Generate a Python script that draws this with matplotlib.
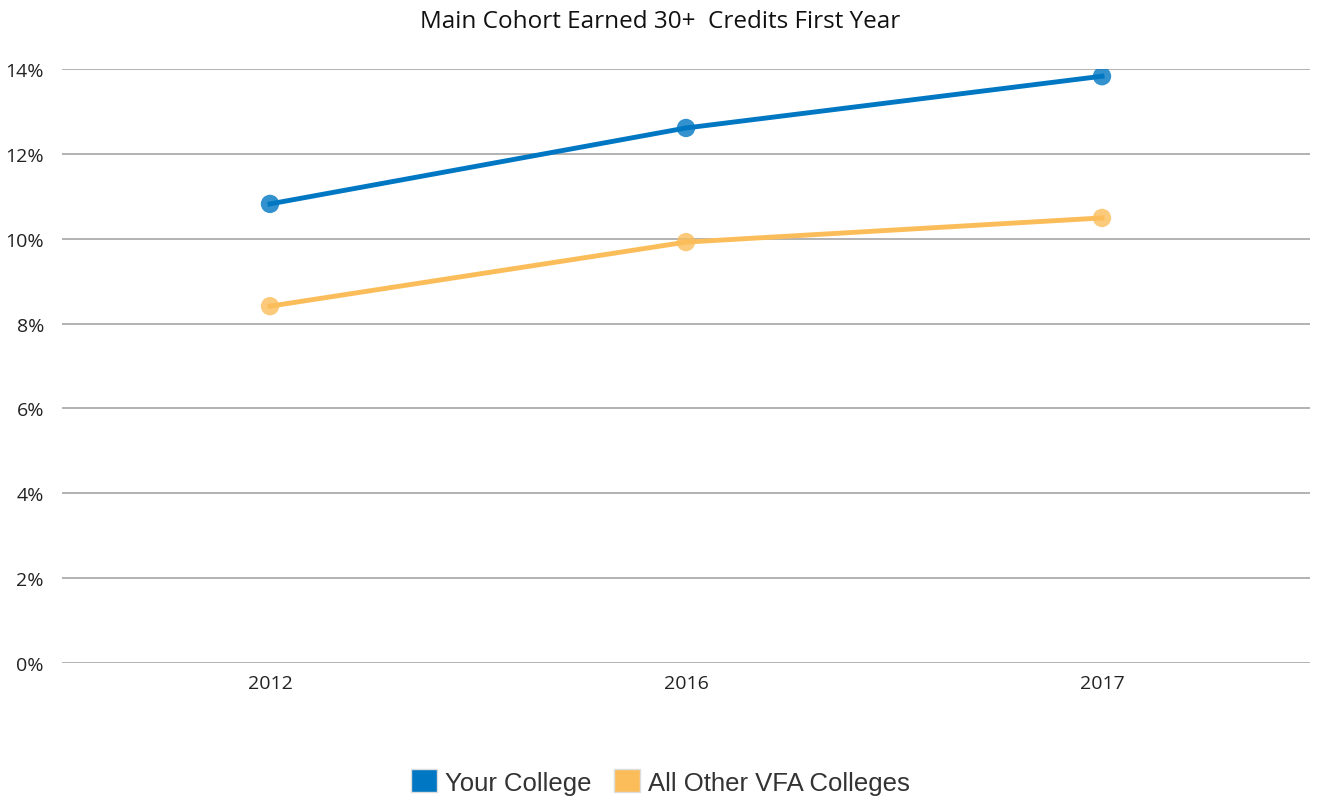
import matplotlib
matplotlib.use("Agg")
import matplotlib.pyplot as plt
from matplotlib.patches import Patch
from matplotlib.ticker import FuncFormatter

# data
years = ["2012", "2016", "2017"]
your_college = [10.82, 12.61, 13.83]
other_vfa = [8.41, 9.92, 10.49]
series_names = ["Your College", "All Other VFA Colleges"]
colors = ["#0077c2", "#fbbd59"]

plt.rcParams['font.family'] = ['Open Sans', 'DejaVu Sans']

fig = plt.figure(figsize=(13.21, 8.03), dpi=100)
ax = fig.add_axes([62 / 1321, 1 - 664 / 803, 1248 / 1321, 594 / 803])

x = range(len(years))
for vals, col in zip([your_college, other_vfa], colors):
    ax.plot(x, vals, color=col, linewidth=3.5, zorder=3)
    ax.scatter(x, vals, s=175, color=col, alpha=0.8, edgecolors='none', zorder=2)

ax.set_xlim(-0.5, 2.5)
ax.set_ylim(0, 14)
ax.set_yticks(range(0, 15, 2))
ax.yaxis.set_major_formatter(FuncFormatter(lambda v, p: "%d%%" % v))
ax.set_xticks(list(x))
ax.set_xticklabels(years)
ax.tick_params(axis='both', length=0, labelsize=14, colors='#222222')
ax.tick_params(axis='y', pad=13)
ax.tick_params(axis='x', pad=8)
ax.grid(axis='y', color='#a6a6a6', linewidth=1.2, zorder=0)
for s in ax.spines.values():
    s.set_visible(False)

fig.text(0.5, 1 - 22 / 803, "Main Cohort Earned 30+  Credits First Year",
         ha='center', va='center', fontsize=17.5, color='#111111')

handles = [Patch(facecolor=c, edgecolor='#dddddd', label=n) for c, n in zip(colors, series_names)]
leg = fig.legend(handles=handles, loc='center', bbox_to_anchor=(0.5, 1 - 783 / 803), ncol=2,
                 frameon=False, prop={'family': 'Liberation Sans', 'size': 18.5},
                 handlelength=1.0, handleheight=1.0, handletextpad=0.3, columnspacing=0.9)
for t in leg.get_texts():
    t.set_color('#333333')

fig.savefig("out.png", dpi=100)
